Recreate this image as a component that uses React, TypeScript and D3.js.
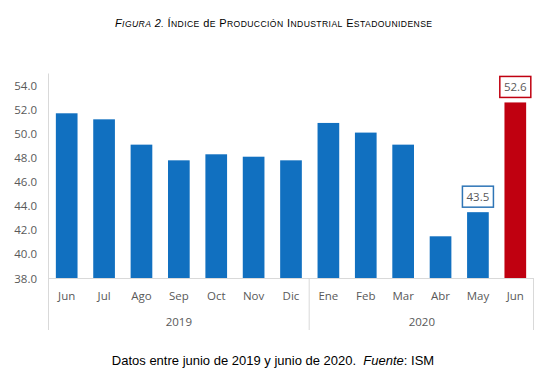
import React from 'react'
import * as d3 from 'd3'

const width = 550
const height = 374

// month labels, year groups and index values
const months = ['Jun', 'Jul', 'Ago', 'Sep', 'Oct', 'Nov', 'Dic', 'Ene', 'Feb', 'Mar', 'Abr', 'May', 'Jun']
const years = ['2019', '2020']
const yearOfMonth = [0, 0, 0, 0, 0, 0, 0, 1, 1, 1, 1, 1, 1]
const values = [51.7, 51.2, 49.1, 47.8, 48.3, 48.1, 47.8, 50.9, 50.1, 49.1, 41.5, 43.5, 52.6]
const yTicks = [38, 40, 42, 44, 46, 48, 50, 52, 54]
const labelled = [11, 12] // bars that carry a value box

const titleItalic = 'Figura 2.'
const titleRest = 'Índice de Producción Industrial Estadounidense'

const blue = '#1170C0'
const red = '#C00010'
const axisGrey = '#D9D9D9'
const textGrey = '#595959'
const font = '"Open Sans", "Noto Sans", sans-serif'
const arial = '"Liberation Sans", Arial, sans-serif'

// word-style small caps: first letter full size, rest upper case and smaller
const smallCaps = (s: string, italic: boolean, key: string) =>
    s.split(' ').flatMap((w, wi) => {
        const parts = [
            <tspan key={key + wi + 'a'} fontStyle={italic ? 'italic' : undefined} fontSize="11px">
                {(wi > 0 ? ' ' : '') + w[0]}
            </tspan>,
        ]
        if (w.length > 1) {
            parts.push(
                <tspan key={key + wi + 'b'} fontStyle={italic ? 'italic' : undefined} fontSize="8.6px">
                    {w.slice(1).toUpperCase()}
                </tspan>
            )
        }
        return parts
    })

const App = () => {
    const keys = months.map((_, i) => String(i))
    const x = d3.scaleBand<string>().domain(keys).range([48, 534]).paddingInner(0.42).paddingOuter(0.21)
    const y = d3.scaleLinear().domain([38, 55]).range([278.5, 73.5])
    const step = x.step()
    const x0 = x.range()[0]

    // year group boundaries
    const groups = years.map((yr, g) => {
        const idx = yearOfMonth.map((v, i) => (v === g ? i : -1)).filter((i) => i >= 0)
        const start = x0 + idx[0] * step
        const end = x0 + (idx[idx.length - 1] + 1) * step
        return { yr, start, end }
    })

    return (
        <svg width={width} height={height} style={{ position: 'absolute', left: 0, top: 0, background: '#fff' }}>
            <text x={115} y={26.5} textLength={317} lengthAdjust="spacing" style={{ fontFamily: arial }}>
                {smallCaps(titleItalic, true, 'i')}
                <tspan fontSize="11px"> </tspan>
                {smallCaps(titleRest, false, 'r')}
            </text>

            {/* y axis */}
            <line x1={48.5} x2={48.5} y1={y(55)} y2={330} stroke={axisGrey} />
            {yTicks.map((t) => (
                <text
                    key={t}
                    x={37}
                    y={y(t)}
                    dy="0.35em"
                    textAnchor="end"
                    fill={textGrey}
                    style={{ fontFamily: font, fontSize: '11.5px' }}
                >
                    {t.toFixed(1)}
                </text>
            ))}

            {/* bars */}
            {values.map((v, i) => (
                <rect
                    key={i}
                    x={x(String(i))}
                    y={y(v)}
                    width={x.bandwidth()}
                    height={y(38) - y(v)}
                    fill={i === values.length - 1 ? red : blue}
                />
            ))}

            {/* x axis */}
            <line x1={48} x2={534} y1={278.5} y2={278.5} stroke={axisGrey} />
            {groups.map((g, i) => (
                <line key={'sep' + i} x1={g.end - 0.5} x2={g.end - 0.5} y1={278.5} y2={330} stroke={axisGrey} />
            ))}
            {months.map((m, i) => (
                <text
                    key={'m' + i}
                    x={(x(String(i)) as number) + x.bandwidth() / 2}
                    y={300}
                    textAnchor="middle"
                    fill={textGrey}
                    style={{ fontFamily: font, fontSize: '11.5px' }}
                >
                    {m}
                </text>
            ))}
            {groups.map((g) => (
                <text
                    key={g.yr}
                    x={(g.start + g.end) / 2}
                    y={326}
                    textAnchor="middle"
                    fill={textGrey}
                    style={{ fontFamily: font, fontSize: '11.5px' }}
                >
                    {g.yr}
                </text>
            ))}

            {/* value boxes */}
            {labelled.map((i) => {
                const cx = (x(String(i)) as number) + x.bandwidth() / 2
                const top = y(values[i])
                const col = i === values.length - 1 ? red : '#2E75B6'
                return (
                    <g key={'lab' + i}>
                        <rect x={cx - 15.5} y={top - 26} width={31} height={21} fill="#fff" stroke={col} strokeWidth={1.5} />
                        <text
                            x={cx}
                            y={top - 15.5}
                            dy="0.35em"
                            textAnchor="middle"
                            fill={textGrey}
                            style={{ fontFamily: font, fontSize: '11.5px' }}
                        >
                            {values[i].toFixed(1)}
                        </text>
                    </g>
                )
            })}

            <text x={273} y={365} textAnchor="middle" style={{ fontFamily: arial, fontSize: '13px' }}>
                Datos entre junio de 2019 y junio de 2020.{'\u00a0 '}
                <tspan fontStyle="italic">Fuente</tspan>: ISM
            </text>
        </svg>
    )
}

export default App
